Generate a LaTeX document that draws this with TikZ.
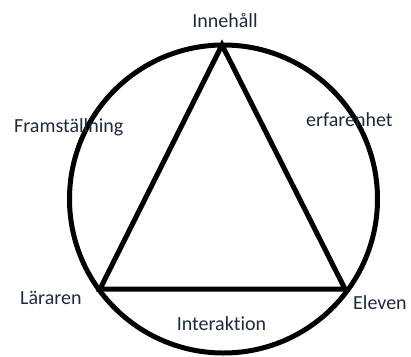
\documentclass[tikz,border=0pt]{standalone}
\usepackage{fontspec}
\setmainfont{Carlito}[Ligatures={NoCommon}]
\definecolor{txt}{HTML}{1E2A3A}
\begin{document}
\begin{tikzpicture}[x=1pt,y=-1pt,
  lbl/.style={inner sep=0pt,text=txt,font=\fontsize{20}{24}\selectfont},
  heavy/.style={line width=5pt,line join=miter}]
\useasboundingbox (0,0) rectangle (411,356);
\coordinate (c) at (223.5,199);
\coordinate (top) at (222,45);
\coordinate (left) at (100,289);
\coordinate (right) at (345,289);
\draw[heavy] (c) circle[radius=154];
\draw[heavy] (top) -- (right) -- (left) -- cycle;
\node[lbl] (inn) at (225,20) {Innehåll};
\node[lbl,anchor=west] (fra) at (14,127) {Framställning};
\node[lbl,anchor=west] (erf) at (306,120) {erfarenhet};
\node[lbl,anchor=west] (lar) at (20,298) {Läraren};
\node[lbl,anchor=west] (ele) at (353,303) {Eleven};
\node[lbl] (int) at (221.5,324) {Interaktion};
\end{tikzpicture}
\end{document}
